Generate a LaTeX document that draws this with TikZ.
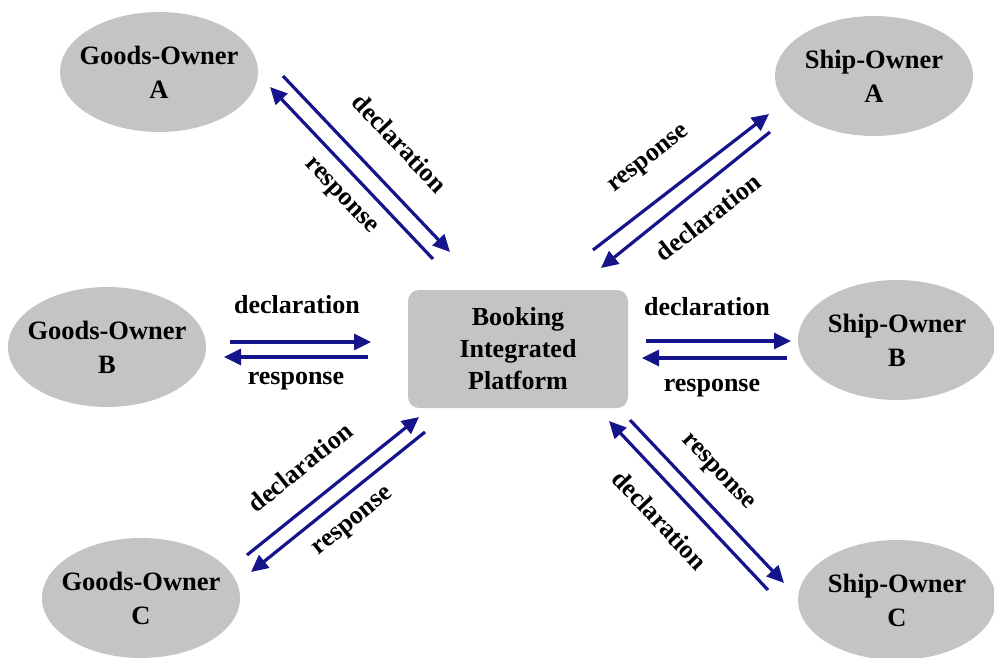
\documentclass[tikz,border=0pt]{standalone}
\usepackage{fontspec}
\setmainfont{Liberation Serif}
\usetikzlibrary{arrows.meta,shapes.geometric}
\definecolor{boxgray}{RGB}{196,196,196}
\definecolor{navy}{RGB}{22,20,138}
\begin{document}
\begin{tikzpicture}[x=1pt,y=-1pt,
  party/.style={ellipse,fill=boxgray,minimum width=198pt,minimum height=120pt,
    align=center,font=\fontsize{26.5}{34}\selectfont\bfseries,inner sep=-20pt},
  hub/.style={rounded corners=11pt,fill=boxgray,minimum width=220pt,minimum height=118pt,
    align=center,font=\fontsize{26}{32}\selectfont\bfseries,inner sep=0pt},
  flow/.style={draw=navy,line width=3.2pt,-{Triangle[length=17pt,width=16pt]}},
  lbl/.style={font=\fontsize{26}{30}\selectfont\bfseries,inner sep=0pt}]
\useasboundingbox (0,0) rectangle (994,658);

% participants
\node[party] (goa) at (159,72) {Goods-Owner\\A};
\node[party] (gob) at (107,347) {Goods-Owner\\B};
\node[party] (goc) at (141,598) {Goods-Owner\\C};
\node[party] (soa) at (874,76) {Ship-Owner\\A};
\node[party] (sob) at (897,340) {Ship-Owner\\B};
\node[party] (soc) at (897,600) {Ship-Owner\\C};
\node[hub] (bip) at (518,349) {Booking\\Integrated\\Platform};

% end points of the message arrows
\coordinate (a1) at (283,76);  \coordinate (a2) at (450,252);
\coordinate (a3) at (433,259); \coordinate (a4) at (270,87);
\coordinate (b1) at (230,342); \coordinate (b2) at (371,342);
\coordinate (b3) at (368,357); \coordinate (b4) at (224,357);
\coordinate (c1) at (247,555); \coordinate (c2) at (419,417);
\coordinate (c3) at (425,432); \coordinate (c4) at (251,572);
\coordinate (d1) at (593,250); \coordinate (d2) at (769,114);
\coordinate (d3) at (770,132); \coordinate (d4) at (601,268);
\coordinate (e1) at (646,341); \coordinate (e2) at (791,341);
\coordinate (e3) at (787,358); \coordinate (e4) at (642,358);
\coordinate (f1) at (630,420); \coordinate (f2) at (784,583);
\coordinate (f3) at (768,590); \coordinate (f4) at (609,421);

% goods owner A
\draw[flow] (a1) -- (a2);
\draw[flow] (a3) -- (a4);
\node[lbl,rotate=-46.5] (la1) at (400,143) {declaration};
\node[lbl,rotate=-46.5] (la2) at (340,197) {response};
% goods owner B
\draw[flow] (b1) -- (b2);
\draw[flow] (b3) -- (b4);
\node[lbl] (lb1) at (297,305) {declaration};
\node[lbl] (lb2) at (296,381) {response};
% goods owner C
\draw[flow] (c1) -- (c2);
\draw[flow] (c3) -- (c4);
\node[lbl,rotate=39] (lc1) at (300,467) {declaration};
\node[lbl,rotate=39] (lc2) at (354,523) {response};
% ship owner A
\draw[flow] (d1) -- (d2);
\draw[flow] (d3) -- (d4);
\node[lbl,rotate=38] (ld1) at (650,160) {response};
\node[lbl,rotate=38] (ld2) at (708,217) {declaration};
% ship owner B
\draw[flow] (e1) -- (e2);
\draw[flow] (e3) -- (e4);
\node[lbl] (le1) at (707,307) {declaration};
\node[lbl] (le2) at (712,388) {response};
% ship owner C
\draw[flow] (f1) -- (f2);
\draw[flow] (f3) -- (f4);
\node[lbl,rotate=-46.6] (lf1) at (717,473) {response};
\node[lbl,rotate=-46.6] (lf2) at (660,520) {declaration};
\end{tikzpicture}
\end{document}
